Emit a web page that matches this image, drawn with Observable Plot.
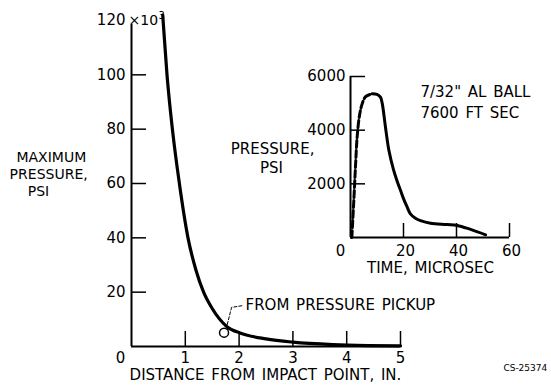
<!DOCTYPE html>
<html>
<head>
<meta charset="utf-8">
<script src="https://cdn.jsdelivr.net/npm/d3@7"></script>
<script src="https://cdn.jsdelivr.net/npm/@observablehq/plot@0.6"></script>
<style>
  html, body { margin: 0; padding: 0; background: white; }
  #chart { position: relative; width: 551px; height: 387px; overflow: hidden; }
  #chart svg { position: absolute; left: 0; top: 0; }
  #chart text { word-spacing: 2px; }
</style>
</head>
<body>
<div id="chart"></div>
<script>
// ---- Main chart data: maximum pressure (psi x 10^3) vs distance (in.)
const distanceIn   = [0.58, 0.66, 0.76, 0.89, 1.05, 1.20, 1.34, 1.50, 1.78, 2.03, 2.50, 3.00, 3.75, 4.40, 5.00];
const maxPressureK = [122, 100, 80, 60, 40, 28, 20, 14, 7.2, 4.9, 2.8, 1.6, 0.7, 0.35, 0.2];
const pickupDistance = [1.72];
const pickupPressure = [5.1];
const mainXTicks = [1, 2, 3, 4, 5];
const mainYTicks = [20, 40, 60, 80, 100];

// ---- Inset data: pressure (psi) vs time (microsec)
const timeDashed     = [0.5, 1.25, 1.9, 2.5, 3.4, 4.4, 5.7, 8.2];
const pressureDashed = [0, 1380, 2680, 3740, 4550, 4980, 5250, 5355];
const timeSolid      = [8.2, 10, 11.3, 12, 13.2, 14.5, 16.3, 17.6, 18.9, 20, 21.4, 22.6, 24.5, 26.4, 30.2, 36.5, 40.3, 45.3, 51];
const pressureSolid  = [5355, 5330, 5230, 4980, 4110, 3240, 2500, 2100, 1750, 1450, 1130, 880, 720, 630, 530, 485, 450, 300, 100];
const insetXTicks = [20, 40, 60];
const insetYTicks = [2000, 4000, 6000];

const font = "'DejaVu Sans', sans-serif";
const W = 551, H = 387;

const mainData = distanceIn.map((x, i) => ({x, y: maxPressureK[i]}));
const pickup = pickupDistance.map((x, i) => ({x, y: pickupPressure[i]}));
const leader = [{x: 1.78, y: 8.1}, {x: 1.86, y: 14.4}, {x: 2.08, y: 15.1}];
const mainLabels = [
  {x: -1.49, y: 69.4, t: "MAXIMUM"},
  {x: -1.54, y: 63.4, t: "PRESSURE,"},
  {x: -1.73, y: 57.2, t: "PSI"}
];

const mL = 131, mR = 151, mT = 20, mB = 41;
const frameW = W - mL - mR, frameH = H - mT - mB;

const main = Plot.plot({
  width: W, height: H,
  marginLeft: mL, marginRight: mR, marginTop: mT, marginBottom: mB,
  x: {domain: [0, 5], axis: null},
  y: {domain: [0, 120], axis: null},
  style: {fontFamily: font, fontSize: "15px", color: "black", background: "white"},
  marks: [
    Plot.ruleY([0], {strokeWidth: 2}),
    Plot.ruleX([0], {strokeWidth: 2, insetTop: 4}),
    Plot.tickX(mainXTicks, {x: d => d, insetTop: frameH - 15, strokeWidth: 1.5}),
    Plot.tickY(mainYTicks, {y: d => d, insetRight: frameW - 15, strokeWidth: 1.5}),
    Plot.text(mainXTicks, {x: d => d, y: 0, dy: 12, text: d => String(d)}),
    Plot.text(mainYTicks, {x: 0, y: d => d, dx: -6, textAnchor: "end", text: d => String(d)}),
    Plot.text(["0"], {x: 0, y: 0, dx: -11, dy: 12, text: d => d}),
    Plot.text(["120"], {x: 0, y: 120, dx: -6, textAnchor: "end", text: d => d}),
    Plot.text(["×10"], {x: 0, y: 120, dx: -3, textAnchor: "start", fontSize: 14, text: d => d}),
    Plot.text(["3"], {x: 0, y: 120, dx: 27, dy: -5, textAnchor: "start", fontSize: 10, text: d => d}),
    Plot.line(mainData, {x: "x", y: "y", curve: "monotone-x", strokeWidth: 3.2}),
    Plot.dot(pickup, {x: "x", y: "y", r: 4.5, stroke: "black", strokeWidth: 1.5}),
    Plot.line(leader, {x: "x", y: "y", strokeWidth: 1, strokeDasharray: "3,2"}),
    Plot.text(["FROM PRESSURE PICKUP"], {x: 2.12, y: 15.1, textAnchor: "start", text: d => d}),
    Plot.text(["DISTANCE FROM IMPACT POINT, IN."], {x: 2.49, y: -10.7, text: d => d}),
    Plot.text(mainLabels, {x: "x", y: "y", text: "t", fontSize: 14}),
    Plot.text(["CS-25374"], {x: 7.32, y: -8.1, text: d => d, fontSize: 9})
  ]
});

const dashedData = timeDashed.map((x, i) => ({x, y: pressureDashed[i]}));
const solidData = timeSolid.map((x, i) => ({x, y: pressureSolid[i]}));

const iL = 350, iR = 42, iT = 76, iB = 150;
const iFrameW = W - iL - iR, iFrameH = H - iT - iB;

const inset = Plot.plot({
  width: W, height: H,
  marginLeft: iL, marginRight: iR, marginTop: iT, marginBottom: iB,
  x: {domain: [0, 60], axis: null},
  y: {domain: [0, 6000], axis: null},
  style: {fontFamily: font, fontSize: "15px", color: "black", background: "none"},
  marks: [
    Plot.ruleY([0], {strokeWidth: 2}),
    Plot.ruleX([0], {strokeWidth: 2}),
    Plot.tickX(insetXTicks, {x: d => d, insetTop: iFrameH - 14, strokeWidth: 1.5}),
    Plot.tickY(insetYTicks, {y: d => d, insetRight: iFrameW - 15, strokeWidth: 1.5}),
    Plot.text(insetXTicks, {x: d => d, y: 0, dx: 2, dy: 14, text: d => String(d)}),
    Plot.text(insetYTicks, {x: 0, y: d => d, dx: -5, textAnchor: "end", text: d => String(d)}),
    Plot.text(["0"], {x: 0, y: 0, dx: -10, dy: 14, text: d => d}),
    Plot.line(dashedData, {x: "x", y: "y", curve: "catmull-rom", strokeWidth: 3, strokeDasharray: "7,3"}),
    Plot.line(solidData, {x: "x", y: "y", curve: "catmull-rom", strokeWidth: 3}),
    Plot.text(["PRESSURE,"], {x: -29.4, y: 3280, text: d => d}),
    Plot.text(["PSI"], {x: -29.8, y: 2570, text: d => d}),
    Plot.text(["TIME, MICROSEC"], {x: 30.2, y: -1155, text: d => d}),
    Plot.text(['7/32" AL BALL'], {x: 26.4, y: 5400, textAnchor: "start", text: d => d}),
    Plot.text(["7600 FT SEC"], {x: 26.4, y: 4620, textAnchor: "start", text: d => d})
  ]
});

const chart = document.getElementById("chart");
chart.appendChild(main);
chart.appendChild(inset);
</script>
</body>
</html>
